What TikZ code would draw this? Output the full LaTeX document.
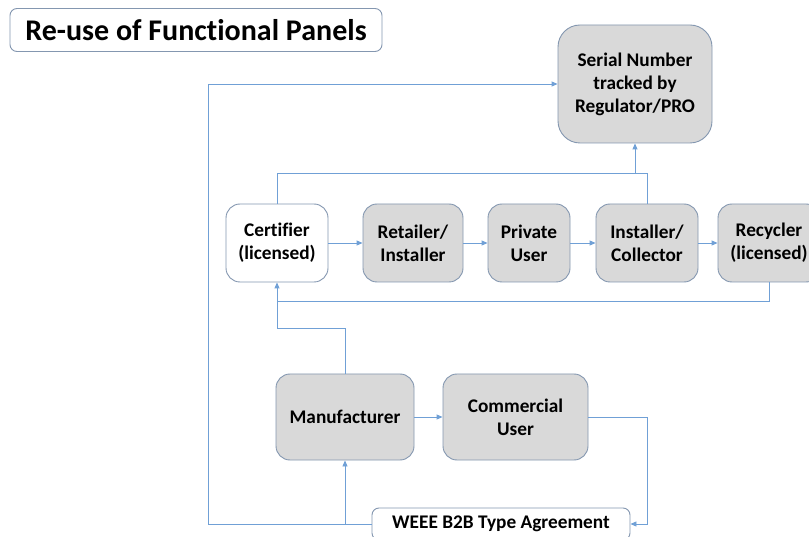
\documentclass[tikz,border=0pt]{standalone}
\usepackage{fontspec}
\setmainfont[Ligatures={NoCommon}]{Carlito}
\usetikzlibrary{arrows.meta}
\definecolor{linec}{RGB}{112,160,214}
\definecolor{boxborder}{RGB}{132,151,176}
\definecolor{boxfill}{RGB}{217,217,217}
\tikzset{
  box/.style={draw=boxborder, line width=0.9pt, fill=boxfill, rounded corners=14pt,
    align=center, inner sep=0pt, font=\fontsize{19.3}{23}\selectfont\bfseries},
  wbox/.style={box, fill=white},
  conn/.style={draw=linec, line width=0.9pt},
  arr/.style={conn, -{Triangle[length=6pt,width=5pt]}},
}
\begin{document}
\begin{tikzpicture}[x=1pt,y=-1pt]
\useasboundingbox (0,0) rectangle (809,537);
\fill[white] (0,0) rectangle (809,537);
\node[wbox, rounded corners=7pt, minimum width=372pt, minimum height=43pt,
  font=\fontsize{30}{34}\selectfont\bfseries] (title) at (196,30) {Re-use of Functional Panels};
\node[box, rounded corners=22pt, minimum width=154pt, minimum height=118pt] (serial) at (635,84)
  {Serial Number\\tracked by\\Regulator/PRO};
\node[wbox, minimum width=102pt, minimum height=78pt] (cert) at (277,243) {Certifier\\(licensed)};
\node[box, minimum width=100pt, minimum height=78pt] (retail) at (413,243) {Retailer/\\Installer};
\node[box, minimum width=82pt, minimum height=78pt] (private) at (529,243) {Private\\User};
\node[box, minimum width=102pt, minimum height=78pt] (install) at (647,243) {Installer/\\Collector};
\node[box, minimum width=102pt, minimum height=78pt] (recyc) at (769,243) {Recycler\\(licensed)};
\node[box, minimum width=138pt, minimum height=86pt] (manu) at (345,417) {Manufacturer};
\node[box, minimum width=145pt, minimum height=86pt] (comm) at (515.5,417) {Commercial\\User};
\node[wbox, rounded corners=7pt, minimum width=258pt, minimum height=32pt] (weee) at (501,524) {WEEE B2B Type Agreement};
\coordinate (topline) at (0,173);
\coordinate (botline) at (0,301);
\coordinate (manline) at (0,328);
\coordinate (leftx) at (208,0);
\coordinate (rightx) at (647,0);
% row arrows
\draw[arr] (cert) -- (retail);
\draw[arr] (retail) -- (private);
\draw[arr] (private) -- (install);
\draw[arr] (install) -- (recyc);
% top connectors
\draw[conn] (cert.north) |- (topline -| install.north) -- (install.north);
\draw[arr] (serial.south |- topline) -- (serial.south);
% bottom loop
\draw[arr] (recyc.south) |- (botline -| cert.south) -- (cert.south);
\draw[conn] (manu.north) |- (manline -| cert.south) -- (botline -| cert.south);
% manufacturer to commercial
\draw[arr] (manu) -- (comm);
% commercial to weee
\draw[arr] (comm.east) -| (rightx |- weee.east) -- (weee.east);
% weee to serial
\draw[arr] (weee.west) -| (leftx |- serial.west) -- (serial.west);
\draw[arr] (manu.south |- weee.west) -- (manu.south);
\end{tikzpicture}
\end{document}
